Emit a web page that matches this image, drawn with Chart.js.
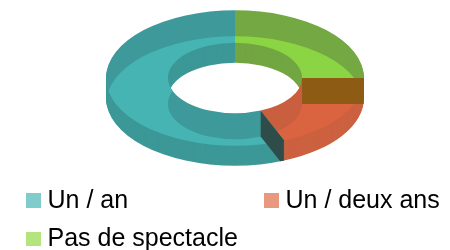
<!DOCTYPE html>
<html>
<head>
<meta charset="utf-8">
<script src="https://cdn.jsdelivr.net/npm/chart.js@4"></script>
<style>
  html, body { margin: 0; padding: 0; background: #fff; }
  #wrap { position: relative; width: 450px; height: 250px; overflow: hidden; }
  #chart { position: absolute; left: 0; top: 0; }
  .key { position: absolute; font-family: "Liberation Sans", Arial, sans-serif; font-size: 25px; line-height: 25px; color: #000; white-space: nowrap; }
  .box { position: absolute; width: 14.5px; height: 14.5px; }
</style>
</head>
<body>
<div id="wrap">
  <canvas id="chart" width="450" height="250"></canvas>
  <div id="legend"></div>
</div>
<script>
// data, in legend order
const labels = ['Un / an', 'Un / deux ans', 'Pas de spectacle'];
const values = [9, 3, 4];

// colours, legend order
const keyColors = ['#80cbcb', '#e8987f', '#b4e47e'];
const topColors = ['#3e999a', '#c95f3e', '#74a843'];
const lightColors = ['#46b4b3', '#d9643f', '#8bd444'];
const sideColors = ['#3c9897', '#cc6140', '#72a642'];
// cut face seen through the slice (teal end, orange end)
const faceColors = ['#2e4c49', '#8e5b14', null];

const tilt = 0.525;  // vertical squash of the disc
const depth = 20;    // height of the side wall
const shade = 26;    // offset of the lit band / cut faces

// the chart goes clockwise, the picture counter-clockwise: flip the order
const order = values.map((v, i) => i).reverse();

function addRing (ctx, a, dy) {
  ctx.save();
  ctx.translate(a.x, a.y + dy);
  ctx.scale(1, tilt);
  ctx.moveTo(Math.cos(a.startAngle) * a.outerRadius, Math.sin(a.startAngle) * a.outerRadius);
  ctx.arc(0, 0, a.outerRadius, a.startAngle, a.endAngle);
  ctx.arc(0, 0, a.innerRadius, a.endAngle, a.startAngle, true);
  ctx.closePath();
  ctx.restore();
}

const pie3d = {
  id: 'pie3d',
  beforeDatasetsDraw (chart) {
    const ctx = chart.ctx;
    const arcs = chart.getDatasetMeta(0).data;
    const col = (list, k) => list[order[k]];

    // side walls, lowest layer first
    for (let dy = depth; dy > 0; dy--) {
      arcs.forEach((a, k) => {
        ctx.beginPath();
        addRing(ctx, a, dy);
        ctx.fillStyle = col(sideColors, k);
        ctx.fill();
      });
    }
    // top face
    arcs.forEach((a, k) => {
      ctx.beginPath();
      addRing(ctx, a, 0);
      ctx.fillStyle = col(topColors, k);
      ctx.fill();
    });
    // lit band
    arcs.forEach((a, k) => {
      ctx.save();
      ctx.beginPath();
      addRing(ctx, a, 0);
      ctx.clip();
      ctx.beginPath();
      addRing(ctx, a, shade);
      ctx.fillStyle = col(lightColors, k);
      ctx.fill();
      ctx.restore();
    });
    // cut face at the start of each slice, seen through the solid
    arcs.forEach((a, k) => {
      if (k === 0) return;
      const t = a.startAngle;
      const px = r => a.x + Math.cos(t) * r;
      const py = r => a.y + Math.sin(t) * r * tilt;
      ctx.save();
      ctx.beginPath();
      for (let dy = 0; dy <= depth; dy++) addRing(ctx, a, dy);
      ctx.clip();
      ctx.beginPath();
      ctx.moveTo(px(a.innerRadius), py(a.innerRadius));
      ctx.lineTo(px(a.outerRadius), py(a.outerRadius));
      ctx.lineTo(px(a.outerRadius), py(a.outerRadius) + shade);
      ctx.lineTo(px(a.innerRadius), py(a.innerRadius) + shade);
      ctx.closePath();
      ctx.fillStyle = faceColors[order[k]];
      ctx.fill();
      ctx.restore();
    });
    return false;
  }
};

new Chart(document.getElementById('chart'), {
  type: 'doughnut',
  data: {
    labels: order.map(i => labels[i]),
    datasets: [{
      data: order.map(i => values[i]),
      backgroundColor: order.map(i => lightColors[i]),
      borderWidth: 0
    }]
  },
  options: {
    responsive: false,
    animation: false,
    radius: 129,
    cutout: '52%',
    layout: { padding: { left: 20, right: 0, top: 0, bottom: 94 } },
    plugins: { legend: { display: false }, tooltip: { enabled: false } }
  },
  plugins: [pie3d]
});

// legend, two columns
const legend = document.getElementById('legend');
labels.forEach((name, i) => {
  const x = 26 + (i % 2) * 238;
  const row = Math.floor(i / 2);
  const box = document.createElement('div');
  box.className = 'box';
  box.style.left = x + 'px';
  box.style.top = (193.3 + row * 38.6) + 'px';
  box.style.background = keyColors[i];
  legend.appendChild(box);
  const key = document.createElement('div');
  key.className = 'key';
  key.style.left = (x + 21.5) + 'px';
  key.style.top = (186.8 + row * 38.6) + 'px';
  key.textContent = name;
  legend.appendChild(key);
});
</script>
</body>
</html>
